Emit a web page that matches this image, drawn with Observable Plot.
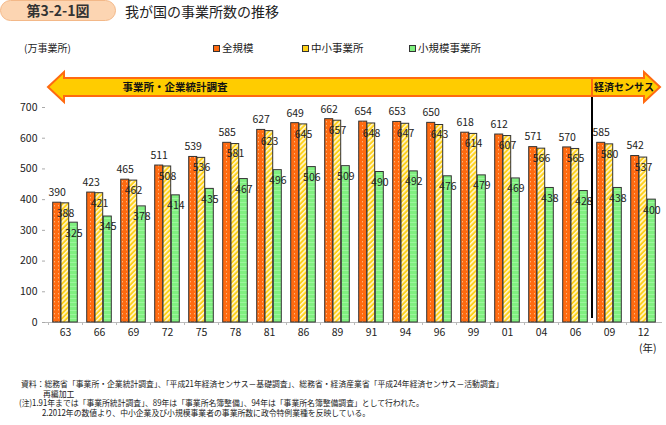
<!DOCTYPE html>
<html><head><meta charset="utf-8">
<script src="https://cdn.jsdelivr.net/npm/d3@7"></script>
<script src="https://cdn.jsdelivr.net/npm/@observablehq/plot@0.6"></script>
<style>
body{margin:0;background:#fff;font-family:"Noto Sans CJK JP",sans-serif;color:#222;}
#wrap{position:relative;width:666px;height:425px;overflow:hidden;}
.abs{position:absolute;white-space:nowrap;}
#pill{left:0;top:0;width:116px;height:21px;background:#fcd5b2;border:1px solid #f3b888;border-radius:11px;font-size:14px;font-weight:bold;line-height:19px;text-align:center;box-sizing:border-box;color:#333;}
#title{left:125px;top:1px;font-size:14px;line-height:20px;}
#unit{left:24px;top:41px;font-size:10px;line-height:14px;}
.leg{font-size:10.5px;line-height:14px;display:flex;align-items:center;}
.leg i{display:inline-block;width:5px;height:5px;border:1px solid #333;margin-right:2px;}
#chart{left:0;top:60px;}
.note{font-size:8.5px;line-height:9px;transform:scaleX(0.92);transform-origin:left center;}
</style></head><body><div id="wrap">
<div id="pill" class="abs">第3-2-1図</div>
<div id="title" class="abs">我が国の事業所数の推移</div>
<div id="unit" class="abs"></div>
<div id="legend"></div>
<div id="chart" class="abs"></div>
<div id="notes"></div>
</div>
<script>
const years = ["63","66","69","72","75","78","81","86","89","91","94","96","99","01","04","06","09","12"];
const seriesNames = ["全規模","中小事業所","小規模事業所"];
const allSize   = [390,423,465,511,539,585,627,649,662,654,653,650,618,612,571,570,585,542];
const smeSize   = [388,421,462,508,536,581,623,645,657,648,647,643,614,607,566,565,580,537];
const smallSize = [325,345,378,414,435,467,496,506,509,490,492,476,479,469,438,428,438,400];
const yTicks = [0,100,200,300,400,500,600,700];
const surveyLabels = ["事業所・企業統計調査","経済センサス"];
const unitLabel = "(万事業所)";
const yearLabel = "(年)";
const notes = [
  "資料：総務省「事業所・企業統計調査」、「平成21年経済センサス－基礎調査」、総務省・経済産業省「平成24年経済センサス－活動調査」",
  "再編加工",
  "(注)1.91年までは「事業所統計調査」、89年は「事業所名簿整備」、94年は「事業所名簿整備調査」として行われた。",
  "2.2012年の数値より、中小企業及び小規模事業者の事業所数に政令特例業種を反映している。"
];

document.getElementById("unit").textContent = unitLabel;
const seriesValues = [allSize, smeSize, smallSize];
const rows = [];
seriesNames.forEach((s, si) => years.forEach((y, i) => rows.push({year: y, series: s, si, value: seriesValues[si][i]})));

// styles
const swatch = ["#ff6a10", "#ffd21a", "#7ff07f"];
const insets = [[4.7, 21.3], [13, 13.3], [21.3, 4.7]];
const labelDx = [-8.3, 0, 8.3];
const labelDy = [-10, 10, 10.5];

// legend
const legendX = [213, 302, 409];
const legend = document.getElementById("legend");
seriesNames.forEach((s, i) => {
  const d = document.createElement("div");
  d.className = "abs leg";
  d.style.left = legendX[i] + "px";
  d.style.top = "41px";
  d.innerHTML = `<i style="background:${swatch[i]}"></i>${s}`;
  legend.appendChild(d);
});

// notes
const noteX = [21, 43, 19, 42];
const noteY = [379, 388.5, 398, 407.5];
const notesDiv = document.getElementById("notes");
notes.forEach((t, i) => {
  const d = document.createElement("div");
  d.className = "abs note";
  d.style.left = noteX[i] + "px";
  d.style.top = noteY[i] + "px";
  d.textContent = t;
  notesDiv.appendChild(d);
});

const marks = [
  Plot.ruleY([0], {stroke: "#bbb"}),
  Plot.axisY({ticks: yTicks, tickSize: 3, tickPadding: 5, fontSize: 10.5, stroke: "#aaa", color: "#222", label: null}),
  Plot.axisX({tickSize: 0, tickPadding: 6, fontSize: 10.5, color: "#222", label: null}),
  Plot.text([yearLabel], {frameAnchor: "bottom-right", dy: 29, dx: -6, fontSize: 10.5, fill: "#222"})
];
seriesNames.forEach((s, si) => {
  marks.push(Plot.barY(rows.filter(r => r.si === si), {
    x: "year", y: "value", fill: `url(#pat${si})`, stroke: "#333", strokeWidth: 1,
    insetLeft: insets[si][0], insetRight: insets[si][1]
  }));
});
seriesNames.forEach((s, si) => {
  marks.push(Plot.text(rows.filter(r => r.si === si), {
    x: "year", y: "value", text: d => String(d.value), dx: labelDx[si], dy: labelDy[si],
    fontSize: 10.5, fill: "#222"
  }));
});

const chart = Plot.plot({
  width: 666, height: 295,
  marginLeft: 45, marginRight: 4, marginTop: 47, marginBottom: 33,
  style: {fontFamily: "'Noto Sans CJK JP', sans-serif", background: "transparent"},
  x: {type: "band", domain: years, padding: 0, axis: null},
  y: {domain: [0, 700], axis: null},
  marks
});
document.getElementById("chart").appendChild(chart);

const svg = d3.select(chart);
const defs = svg.insert("defs", ":first-child");
// orange dotted
const p0 = defs.append("pattern").attr("id", "pat0").attr("patternUnits", "userSpaceOnUse").attr("width", 4).attr("height", 4);
p0.append("rect").attr("width", 4).attr("height", 4).attr("fill", "#ff6a10");
p0.append("rect").attr("x", 2).attr("y", 1).attr("width", 1).attr("height", 1.4).attr("fill", "#ffb37a");
// yellow hatched
const p1 = defs.append("pattern").attr("id", "pat1").attr("patternUnits", "userSpaceOnUse").attr("width", 3.5).attr("height", 3.5).attr("patternTransform", "rotate(45)");
p1.append("rect").attr("width", 3.5).attr("height", 3.5).attr("fill", "#ffd21a");
p1.append("rect").attr("width", 1.5).attr("height", 3.5).attr("fill", "#fff6d8");
// green
const p2 = defs.append("pattern").attr("id", "pat2").attr("patternUnits", "userSpaceOnUse").attr("width", 4).attr("height", 4);
p2.append("rect").attr("width", 4).attr("height", 4).attr("fill", "#80f080");
p2.append("rect").attr("y", 2).attr("width", 4).attr("height", 1).attr("fill", "#9cf69c");

const xs = chart.scale("x"), ys = chart.scale("y");
const bw = xs.bandwidth;
const x0 = xs.apply(years[0]);
const xd = xs.apply(years[years.length - 2]);
const xr = xs.apply(years[years.length - 1]) + bw;
const y0 = ys.apply(0);
const cy = ys.apply(700) - 20;
const g = svg.append("g");
// boundary ticks
years.forEach(y => {
  const bx = xs.apply(y);
  g.append("line").attr("x1", bx + 0.5).attr("x2", bx + 0.5).attr("y1", y0).attr("y2", y0 + 3).attr("stroke", "#bbb");
});
const hb = 9, hh = 15, hl = 16;
g.append("polygon").attr("points", [
  [x0, cy], [x0 + hl, cy - hh], [x0 + hl, cy - hb], [xd, cy - hb], [xd, cy + hb], [x0 + hl, cy + hb], [x0 + hl, cy + hh]
].map(p => p.join(",")).join(" ")).attr("fill", "#ffcc00").attr("stroke", "#ff6a10").attr("stroke-width", 2).attr("stroke-linejoin", "miter");
g.append("polygon").attr("points", [
  [xd, cy - hb], [xr - hl, cy - hb], [xr - hl, cy - hh], [xr, cy], [xr - hl, cy + hh], [xr - hl, cy + hb], [xd, cy + hb]
].map(p => p.join(",")).join(" ")).attr("fill", "#ffcc00").attr("stroke", "#ff6a10").attr("stroke-width", 2);
g.append("text").attr("x", xs.apply("72") + bw / 2 + 8).attr("y", cy).attr("dy", "0.35em")
  .attr("text-anchor", "middle").attr("font-size", 10.5).attr("font-weight", "bold").attr("fill", "#111").text(surveyLabels[0]);
g.append("text").attr("x", (xd + xr) / 2 - 2).attr("y", cy).attr("dy", "0.35em")
  .attr("text-anchor", "middle").attr("font-size", 10).attr("font-weight", "bold").attr("fill", "#111").text(surveyLabels[1]);
g.append("line").attr("x1", xd).attr("x2", xd).attr("y1", cy + hb + 1).attr("y2", y0 - 4).attr("stroke", "#000").attr("stroke-width", 2);
</script>
</body></html>
